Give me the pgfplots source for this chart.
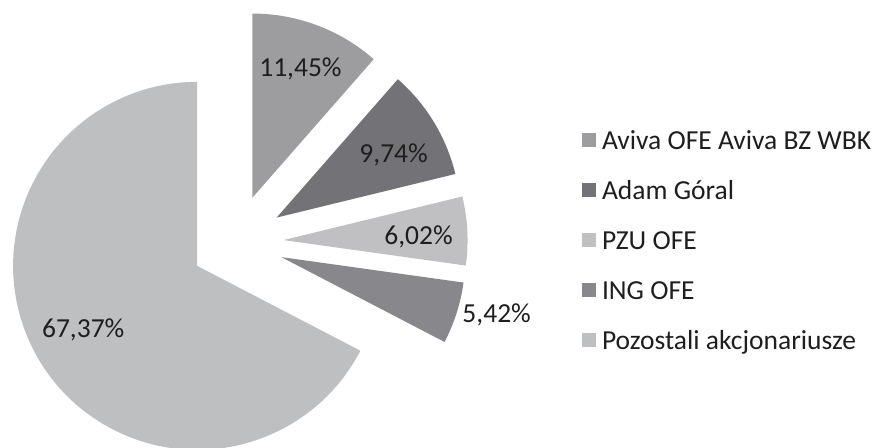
\documentclass[border=0pt]{standalone}
\usepackage{pgfplots}
\usepackage{pgfplotstable}
\pgfplotsset{compat=1.18}
\usepackage{fontspec}
\setmainfont{Carlito}
\definecolor{cA}{RGB}{157,157,160}
\definecolor{cB}{RGB}{115,115,119}
\definecolor{cC}{RGB}{192,192,194}
\definecolor{cD}{RGB}{136,136,140}
\definecolor{cE}{RGB}{190,191,193}
\definecolor{txt}{RGB}{30,30,30}
\newcommand\bigfont{\fontsize{27.5bp}{31bp}\selectfont}
\pgfkeys{/pgf/number format/assume math mode=true}

% value, explosion (bp), label angle, label distance factor, label anchor, colour
\pgfplotstableread[col sep=comma]{
value,explode,lang,lfac,lanchor,col
11.45,48,69.6,0.748,center,cA
9.74,48,28.3,0.722,center,cB
6.02,48,1.3,0.734,center,cC
5.42,48,-17.8,1.033,west,cD
67.37,45,209.3,0.71,center,cE
}\piedata

\begin{document}
\begin{tikzpicture}
\begin{axis}[
  width=880bp, height=447bp, scale only axis,
  xmin=0, xmax=880, ymin=0, ymax=447,
  axis line style={draw=none}, ticks=none,
  clip=true,
  legend cell align=left,
  legend image code/.code={\fill[#1] (0bp,-7bp) rectangle (14bp,7bp);},
  legend style={at={(axis description cs:0.6614,0.7136)}, anchor=north west,
    draw=none, fill=none, inner sep=0pt, outer sep=0pt,
    row sep=26bp, column sep=6bp, font=\bigfont, text=txt,
    nodes={inner sep=0pt, outer sep=0pt, text height=21bp, text depth=3bp}},
]
\gdef\cum{0}
\pgfplotsinvokeforeach{0,...,4}{%
  \pgfplotstablegetelem{#1}{value}\of\piedata \let\v\pgfplotsretval
  \pgfplotstablegetelem{#1}{explode}\of\piedata \let\ex\pgfplotsretval
  \pgfplotstablegetelem{#1}{lang}\of\piedata \let\la\pgfplotsretval
  \pgfplotstablegetelem{#1}{lfac}\of\piedata \let\lf\pgfplotsretval
  \pgfplotstablegetelem{#1}{lanchor}\of\piedata \let\lan\pgfplotsretval
  \pgfplotstablegetelem{#1}{col}\of\piedata \let\cl\pgfplotsretval
  \pgfmathsetmacro\aA{90-3.6*\cum}%
  \pgfmathsetmacro\aB{90-3.6*(\cum+\v)}%
  \pgfmathsetmacro\md{(\aA+\aB)/2}%
  \pgfmathsetmacro\px{235.6+\ex*cos(\md)}%
  \pgfmathsetmacro\py{204.5+\ex*sin(\md)}%
  \pgfmathsetmacro\lx{\px+\lf*184*cos(\la)}%
  \pgfmathsetmacro\ly{\py+\lf*184*sin(\la)}%
  \pgfmathsetmacro\newcum{\cum+\v}%
  \global\let\cum\newcum
  \edef\temp{%
    \noexpand\fill[\cl] (axis cs:\px,\py) -- ++(\aA:184bp)
      arc[start angle=\aA, end angle=\aB, radius=184bp] -- cycle;
    \noexpand\node[anchor=\lan, inner sep=0pt, text=txt, font=\noexpand\bigfont]
      at (axis cs:\lx,\ly)
      {\noexpand\pgfmathprintnumber[fixed, fixed zerofill, precision=2, use comma]{\v}\noexpand\%};
  }%
  \temp
}
\addlegendimage{fill=cA, draw=none}
\addlegendentry{Aviva OFE Aviva BZ WBK}
\addlegendimage{fill=cB, draw=none}
\addlegendentry{Adam Góral}
\addlegendimage{fill=cC, draw=none}
\addlegendentry{PZU OFE}
\addlegendimage{fill=cD, draw=none}
\addlegendentry{ING OFE}
\addlegendimage{fill=cE, draw=none}
\addlegendentry{Pozostali akcjonariusze}
\end{axis}
\end{tikzpicture}
\end{document}
